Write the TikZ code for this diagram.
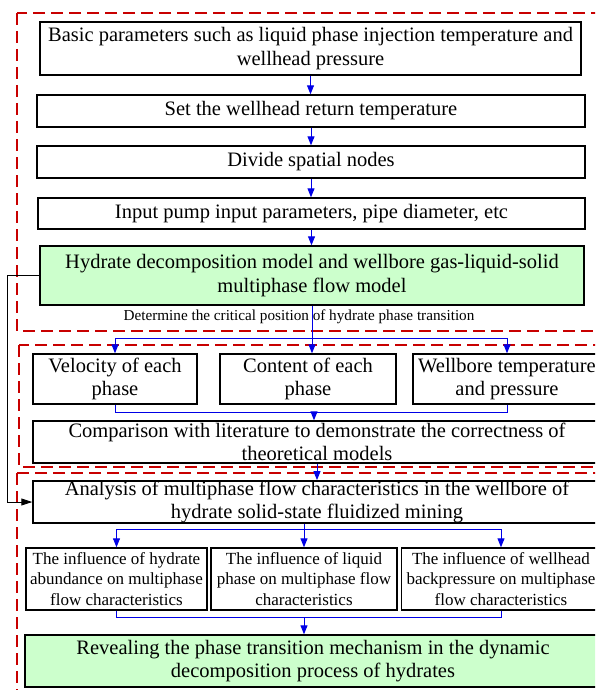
\documentclass[tikz,border=0pt]{standalone}
\usepackage{fontspec}
\setmainfont{Liberation Serif}
\usetikzlibrary{arrows.meta}
\definecolor{frame}{RGB}{200,0,0}
\definecolor{flowblue}{RGB}{0,0,230}
\definecolor{lgreen}{RGB}{204,255,204}
\tikzset{
  box/.style={draw=black, line width=1.4pt, inner sep=0pt, align=center,
    font=\fontsize{20.5}{23.5}\selectfont},
  greenbox/.style={box, fill=lgreen},
  smallbox/.style={box, font=\fontsize{17}{20.5}\selectfont},
  region/.style={draw=frame, line width=1.2pt, dash pattern=on 12pt off 6pt},
  flow/.style={draw=flowblue, line width=1pt},
  flowarr/.style={flow, -{Triangle[length=9pt,width=7pt]}},
  backarr/.style={draw=black, line width=0.9pt, -{Triangle[length=11pt,width=7pt]}},
  lbl/.style={inner sep=0pt, font=\fontsize{15.2}{17}\selectfont}
}
\begin{document}
\begin{tikzpicture}[x=1pt,y=-1pt]
\useasboundingbox (0,0) rectangle (595,690);
\clip (0,0) rectangle (595,690);
% region frames
\draw[region] (17,13) rectangle (640,331);
\draw[region] (19,345) rectangle (640,467);
\draw[region] (17,473) rectangle (640,720);
% nodes
\node[box, minimum width=541pt, minimum height=53pt] (b1) at (310.5,48.5)
  {Basic parameters such as liquid phase injection temperature and\\wellhead pressure};
\node[box, minimum width=548pt, minimum height=32pt] (b2) at (311,111)
  {Set the wellhead return temperature};
\node[box, minimum width=548pt, minimum height=32pt] (b3) at (311,162)
  {Divide spatial nodes};
\node[box, minimum width=547pt, minimum height=31pt] (b4) at (311.5,213.5)
  {Input pump input parameters, pipe diameter, etc};
\node[greenbox, minimum width=544pt, minimum height=59pt] (b5) at (312,275.5)
  {Hydrate decomposition model and wellbore gas-liquid-solid\\multiphase flow model};
\node[lbl] (lab) at (299,317) {Determine the critical position of hydrate phase transition};
\node[box, minimum width=164pt, minimum height=50pt] (va) at (115,379)
  {Velocity of each\\phase};
\node[box, minimum width=176pt, minimum height=50pt] (vb) at (308,379)
  {Content of each\\phase};
\node[box, minimum width=188pt, minimum height=50pt] (vc) at (507,379)
  {Wellbore temperature\\and pressure};
\node[box, minimum width=568pt, minimum height=42pt] (d) at (317,442)
  {Comparison with literature to demonstrate the correctness of\\theoretical models};
\node[box, minimum width=568pt, minimum height=42pt] (e) at (317,502)
  {Analysis of multiphase flow characteristics in the wellbore of\\hydrate solid-state fluidized mining};
\node[smallbox, minimum width=181pt, minimum height=62pt] (f) at (116.5,579)
  {The influence of hydrate\\abundance on multiphase\\flow characteristics};
\node[smallbox, minimum width=186pt, minimum height=62pt] (g) at (304,579)
  {The influence of liquid\\phase on multiphase flow\\characteristics};
\node[smallbox, minimum width=199pt, minimum height=62pt] (h) at (501,579)
  {The influence of wellhead\\backpressure on multiphase\\flow characteristics};
\node[greenbox, minimum width=576pt, minimum height=52pt] (i) at (313,661)
  {Revealing the phase transition mechanism in the dynamic\\decomposition process of hydrates};
% top chain
\draw[flowarr] (b1.south) -- (b1.south |- b2.north);
\draw[flowarr] (b2.south) -- (b2.south |- b3.north);
\draw[flowarr] (b3.south) -- (b3.south |- b4.north);
\draw[flowarr] (b4.south) -- (b4.south |- b5.north);
% branch to three results
\coordinate (j1) at (312,338);
\draw[flowarr] (b5.south) -- (b5.south |- vb.north);
\draw[flowarr] (j1) -| (va.north);
\draw[flowarr] (j1) -| (vc.north);
% merge to comparison
\coordinate (m1) at (314,412);
\draw[flow] (va.south) |- (m1);
\draw[flow] (vc.south) |- (m1);
\draw[flowarr] (m1) -- (m1 |- d.north);
% comparison to analysis
\draw[flowarr] (d.south) -- (d.south |- e.north);
% feedback
\draw[backarr] (b5.west) -- ++(-32,0) |- (e.west);
% branch to influences
\coordinate (j2) at (304,529);
\draw[flowarr] (j2 |- e.south) -- (g.north);
\draw[flowarr] (j2) -| (f.north);
\draw[flowarr] (j2) -| (h.north);
% merge to conclusion
\coordinate (m2) at (304,617);
\draw[flow] (f.south) |- (m2);
\draw[flow] (h.south) |- (m2);
\draw[flowarr] (m2) -- (m2 |- i.north);
\end{tikzpicture}
\end{document}
